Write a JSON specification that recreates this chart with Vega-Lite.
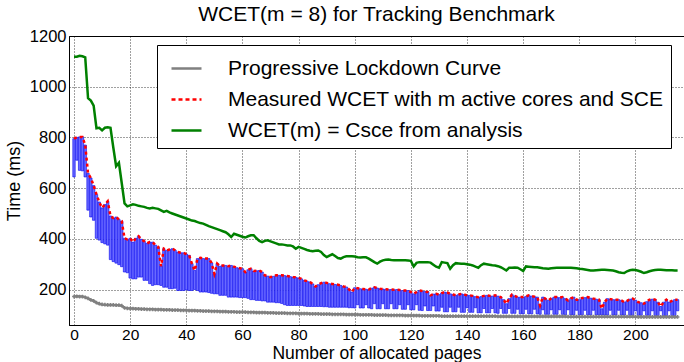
{
"$schema":"https://vega.github.io/schema/vega-lite/v6.json",
"autosize":{"type":"none"},
"padding":{"left":69,"top":36,"right":0,"bottom":37},
"width":615,"height":289,
"background":"white",
"title":{"text":"WCET(m = 8) for Tracking Benchmark","anchor":"middle","frame":"group","font":"Liberation Sans","fontSize":21,"fontWeight":"normal","color":"#000","offset":3},
"config":{"view":{"stroke":"#000","strokeWidth":1},
"axis":{"labelColor":"#000","titleColor":"#000","domainColor":"#000","ticks":false,"grid":true,"gridColor":"#000","gridDash":[1,2],"gridOpacity":0.75,"titleFontWeight":"normal","labelFlush":false}},
"data":{"values":[
{"x":0,"g":172,"m":795,"l":644,"w":1118},{"x":1,"g":173,"m":800,"l":710,"w":1118},{"x":2,"g":172,"m":802,"l":670,"w":1122},{"x":3,"g":172,"m":802,"l":668,"w":1120},{"x":4,"g":169,"m":770,"l":644,"w":1116},
{"x":5,"g":165,"m":658,"l":513,"w":955},{"x":6,"g":159,"m":640,"l":486,"w":945},{"x":7,"g":155,"m":610,"l":473,"w":925},{"x":8,"g":148,"m":575,"l":402,"w":836},{"x":9,"g":144,"m":545,"l":395,"w":838},
{"x":10,"g":141,"m":522,"l":385,"w":828},{"x":11,"g":140,"m":535,"l":380,"w":838},{"x":12,"g":139,"m":548,"l":375,"w":840},{"x":13,"g":139,"m":490,"l":318,"w":838},{"x":14,"g":139,"m":482,"l":310,"w":760},
{"x":15,"g":138,"m":486,"l":304,"w":686},{"x":16,"g":138,"m":476,"l":298,"w":700},{"x":17,"g":136,"m":470,"l":290,"w":620},{"x":18,"g":128,"m":402,"l":269,"w":540},{"x":19,"g":126,"m":398,"l":266,"w":528},
{"x":20,"g":125,"m":402,"l":245,"w":532},{"x":21,"g":125,"m":387,"l":242,"w":536},{"x":22,"g":124,"m":402,"l":242,"w":534},{"x":23,"g":124,"m":410,"l":249,"w":530},{"x":24,"g":123,"m":398,"l":249,"w":528},
{"x":25,"g":123,"m":390,"l":236,"w":526},{"x":26,"g":122,"m":382,"l":236,"w":522},{"x":27,"g":122,"m":387,"l":223,"w":520},{"x":28,"g":122,"m":387,"l":216,"w":522},{"x":29,"g":121,"m":375,"l":219,"w":520},
{"x":30,"g":121,"m":368,"l":219,"w":518},{"x":31,"g":121,"m":292,"l":216,"w":512},{"x":32,"g":120,"m":361,"l":209,"w":506},{"x":33,"g":120,"m":354,"l":209,"w":510},{"x":34,"g":120,"m":358,"l":203,"w":504},
{"x":35,"g":119,"m":361,"l":203,"w":500},{"x":36,"g":119,"m":355,"l":205,"w":496},{"x":37,"g":119,"m":348,"l":196,"w":492},{"x":38,"g":118,"m":345,"l":196,"w":488},{"x":39,"g":118,"m":345,"l":196,"w":484},
{"x":40,"g":118,"m":340,"l":198,"w":480},{"x":41,"g":117,"m":335,"l":196,"w":476},{"x":42,"g":117,"m":302,"l":196,"w":472},{"x":43,"g":117,"m":275,"l":200,"w":470},{"x":44,"g":116,"m":322,"l":196,"w":466},
{"x":45,"g":116,"m":325,"l":190,"w":462},{"x":46,"g":115,"m":322,"l":190,"w":460},{"x":47,"g":115,"m":322,"l":190,"w":455},{"x":48,"g":115,"m":322,"l":188,"w":450},{"x":49,"g":114,"m":305,"l":185,"w":446},
{"x":50,"g":114,"m":262,"l":183,"w":442},{"x":51,"g":114,"m":302,"l":183,"w":438},{"x":52,"g":113,"m":292,"l":177,"w":434},{"x":53,"g":113,"m":295,"l":177,"w":430},{"x":54,"g":113,"m":295,"l":177,"w":426},
{"x":55,"g":112,"m":292,"l":170,"w":418},{"x":56,"g":112,"m":295,"l":170,"w":407},{"x":57,"g":112,"m":290,"l":170,"w":420},{"x":58,"g":111,"m":286,"l":170,"w":416},{"x":59,"g":111,"m":284,"l":168,"w":412},
{"x":60,"g":111,"m":282,"l":168,"w":408},{"x":61,"g":111,"m":269,"l":168,"w":405},{"x":62,"g":110,"m":278,"l":165,"w":410},{"x":63,"g":110,"m":282,"l":160,"w":414},{"x":64,"g":110,"m":273,"l":160,"w":414},
{"x":65,"g":109,"m":274,"l":157,"w":402},{"x":66,"g":109,"m":275,"l":157,"w":392},{"x":67,"g":109,"m":269,"l":155,"w":387},{"x":68,"g":109,"m":256,"l":155,"w":392},{"x":69,"g":108,"m":253,"l":150,"w":394},
{"x":70,"g":108,"m":249,"l":150,"w":390},{"x":71,"g":108,"m":252,"l":150,"w":386},{"x":72,"g":107,"m":256,"l":148,"w":382},{"x":73,"g":107,"m":256,"l":148,"w":378},{"x":74,"g":107,"m":256,"l":145,"w":378},
{"x":75,"g":107,"m":255,"l":140,"w":376},{"x":76,"g":106,"m":253,"l":137,"w":374},{"x":77,"g":106,"m":251,"l":137,"w":374},{"x":78,"g":106,"m":249,"l":137,"w":370},{"x":79,"g":106,"m":248,"l":137,"w":361},
{"x":80,"g":105,"m":246,"l":137,"w":368},{"x":81,"g":105,"m":242,"l":137,"w":364},{"x":82,"g":105,"m":236,"l":135,"w":360},{"x":83,"g":105,"m":233,"l":133,"w":356},{"x":84,"g":104,"m":230,"l":133,"w":353},
{"x":85,"g":104,"m":222,"l":133,"w":351},{"x":86,"g":104,"m":212,"l":133,"w":353},{"x":87,"g":104,"m":219,"l":133,"w":354},{"x":88,"g":103,"m":225,"l":133,"w":348},{"x":89,"g":103,"m":229,"l":132,"w":336},
{"x":90,"g":103,"m":226,"l":132,"w":328},{"x":91,"g":103,"m":223,"l":130,"w":334},{"x":92,"g":102,"m":222,"l":130,"w":339},{"x":93,"g":102,"m":220,"l":130,"w":332},{"x":94,"g":102,"m":219,"l":130,"w":324},
{"x":95,"g":102,"m":216,"l":130,"w":322},{"x":96,"g":102,"m":212,"l":130,"w":328},{"x":97,"g":101,"m":210,"l":130,"w":331},{"x":98,"g":101,"m":200,"l":128,"w":331},{"x":99,"g":101,"m":190,"l":128,"w":331},
{"x":100,"g":101,"m":207,"l":127,"w":330},{"x":101,"g":101,"m":205,"l":140,"w":327},{"x":102,"g":100,"m":203,"l":127,"w":326},{"x":103,"g":100,"m":202,"l":127,"w":327},{"x":104,"g":100,"m":201,"l":140,"w":327},
{"x":105,"g":100,"m":200,"l":127,"w":322},{"x":106,"g":100,"m":205,"l":124,"w":315},{"x":107,"g":99,"m":209,"l":144,"w":308},{"x":108,"g":99,"m":206,"l":124,"w":302},{"x":109,"g":99,"m":203,"l":124,"w":310},
{"x":110,"g":99,"m":202,"l":144,"w":315},{"x":111,"g":99,"m":201,"l":124,"w":317},{"x":112,"g":98,"m":200,"l":124,"w":318},{"x":113,"g":98,"m":200,"l":144,"w":316},{"x":114,"g":98,"m":199,"l":124,"w":315},
{"x":115,"g":98,"m":200,"l":124,"w":315},{"x":116,"g":98,"m":198,"l":140,"w":315},{"x":117,"g":98,"m":196,"l":122,"w":315},{"x":118,"g":97,"m":196,"l":122,"w":315},{"x":119,"g":97,"m":196,"l":140,"w":314},
{"x":120,"g":97,"m":190,"l":120,"w":313},{"x":121,"g":97,"m":183,"l":120,"w":291},{"x":122,"g":97,"m":190,"l":140,"w":305},{"x":123,"g":97,"m":196,"l":118,"w":308},{"x":124,"g":96,"m":194,"l":117,"w":308},
{"x":125,"g":96,"m":192,"l":135,"w":308},{"x":126,"g":96,"m":190,"l":117,"w":308},{"x":127,"g":96,"m":177,"l":117,"w":306},{"x":128,"g":96,"m":182,"l":135,"w":298},{"x":129,"g":96,"m":183,"l":115,"w":290},
{"x":130,"g":96,"m":180,"l":115,"w":286},{"x":131,"g":95,"m":186,"l":130,"w":308},{"x":132,"g":95,"m":190,"l":112,"w":306},{"x":133,"g":95,"m":188,"l":112,"w":304},{"x":134,"g":95,"m":183,"l":130,"w":282},
{"x":135,"g":95,"m":180,"l":112,"w":296},{"x":136,"g":95,"m":177,"l":112,"w":304},{"x":137,"g":95,"m":180,"l":130,"w":303},{"x":138,"g":95,"m":183,"l":110,"w":302},{"x":139,"g":95,"m":180,"l":110,"w":302},
{"x":140,"g":95,"m":177,"l":128,"w":300},{"x":141,"g":95,"m":177,"l":110,"w":298},{"x":142,"g":95,"m":175,"l":110,"w":295},{"x":143,"g":95,"m":172,"l":128,"w":290},{"x":144,"g":95,"m":170,"l":108,"w":286},
{"x":145,"g":95,"m":172,"l":108,"w":296},{"x":146,"g":95,"m":175,"l":125,"w":302},{"x":147,"g":95,"m":177,"l":108,"w":300},{"x":148,"g":95,"m":175,"l":108,"w":298},{"x":149,"g":95,"m":174,"l":125,"w":296},
{"x":150,"g":95,"m":177,"l":108,"w":295},{"x":151,"g":94,"m":174,"l":106,"w":292},{"x":152,"g":94,"m":170,"l":125,"w":288},{"x":153,"g":94,"m":160,"l":106,"w":282},{"x":154,"g":94,"m":144,"l":106,"w":275},
{"x":155,"g":94,"m":164,"l":125,"w":286},{"x":156,"g":94,"m":180,"l":106,"w":286},{"x":157,"g":94,"m":175,"l":106,"w":287},{"x":158,"g":94,"m":170,"l":122,"w":286},{"x":159,"g":94,"m":170,"l":104,"w":280},
{"x":160,"g":94,"m":170,"l":104,"w":273},{"x":161,"g":94,"m":173,"l":122,"w":291},{"x":162,"g":94,"m":177,"l":104,"w":290},{"x":163,"g":94,"m":174,"l":104,"w":289},{"x":164,"g":94,"m":172,"l":122,"w":288},
{"x":165,"g":94,"m":170,"l":104,"w":288},{"x":166,"g":94,"m":137,"l":102,"w":286},{"x":167,"g":94,"m":170,"l":120,"w":284},{"x":168,"g":94,"m":163,"l":102,"w":283},{"x":169,"g":94,"m":157,"l":102,"w":282},
{"x":170,"g":94,"m":165,"l":120,"w":284},{"x":171,"g":94,"m":170,"l":102,"w":285},{"x":172,"g":94,"m":170,"l":102,"w":286},{"x":173,"g":94,"m":168,"l":120,"w":286},{"x":174,"g":94,"m":170,"l":102,"w":286},
{"x":175,"g":94,"m":164,"l":100,"w":286},{"x":176,"g":93,"m":157,"l":120,"w":286},{"x":177,"g":93,"m":165,"l":100,"w":286},{"x":178,"g":93,"m":170,"l":100,"w":285},{"x":179,"g":93,"m":160,"l":118,"w":284},
{"x":180,"g":93,"m":160,"l":100,"w":282},{"x":181,"g":93,"m":167,"l":100,"w":281},{"x":182,"g":93,"m":168,"l":118,"w":279},{"x":183,"g":93,"m":170,"l":100,"w":277},{"x":184,"g":93,"m":166,"l":100,"w":275},
{"x":185,"g":93,"m":164,"l":118,"w":275},{"x":186,"g":93,"m":162,"l":100,"w":276},{"x":187,"g":93,"m":160,"l":100,"w":277},{"x":188,"g":93,"m":124,"l":100,"w":278},{"x":189,"g":93,"m":150,"l":99,"w":278},
{"x":190,"g":93,"m":164,"l":99,"w":277},{"x":191,"g":93,"m":162,"l":118,"w":276},{"x":192,"g":93,"m":160,"l":99,"w":275},{"x":193,"g":93,"m":160,"l":99,"w":272},{"x":194,"g":93,"m":160,"l":118,"w":268},
{"x":195,"g":93,"m":157,"l":99,"w":266},{"x":196,"g":93,"m":150,"l":99,"w":265},{"x":197,"g":93,"m":155,"l":118,"w":272},{"x":198,"g":93,"m":162,"l":98,"w":276},{"x":199,"g":93,"m":164,"l":98,"w":278},
{"x":200,"g":93,"m":158,"l":116,"w":277},{"x":201,"g":92,"m":150,"l":98,"w":274},{"x":202,"g":92,"m":148,"l":98,"w":270},{"x":203,"g":92,"m":144,"l":116,"w":265},{"x":204,"g":92,"m":152,"l":98,"w":268},
{"x":205,"g":92,"m":160,"l":98,"w":272},{"x":206,"g":92,"m":162,"l":116,"w":275},{"x":207,"g":92,"m":160,"l":97,"w":277},{"x":208,"g":92,"m":150,"l":97,"w":278},{"x":209,"g":92,"m":133,"l":116,"w":278},
{"x":210,"g":92,"m":150,"l":97,"w":277},{"x":211,"g":92,"m":160,"l":97,"w":276},{"x":212,"g":92,"m":150,"l":116,"w":276},{"x":213,"g":92,"m":155,"l":97,"w":276},{"x":214,"g":92,"m":160,"l":97,"w":275},
{"x":215,"g":92,"m":160,"l":116,"w":275}
]},
"encoding":{"x":{"field":"x","type":"quantitative","scale":{"domain":[0,215.5],"nice":false,"zero":false},
"axis":{"values":[0,20,40,60,80,100,120,140,160,180,200],"title":"Number of allocated pages","labelFont":"Liberation Sans","labelFontSize":15.5,"labelPadding":2,"titleFont":"Liberation Sans","titleFontSize":17.5,"titlePadding":2}}},
"layer":[
{"mark":{"type":"bar","size":2.4,"fill":"#6a6aff","stroke":"#0000f0","strokeWidth":0.6,"clip":true},
"encoding":{"y":{"field":"m","type":"quantitative","title":"Time (ms)","scale":{"domain":[60,1200],"nice":false,"zero":false},
"axis":{"values":[200,400,600,800,1000,1200],"format":"d","labelFont":"Liberation Sans","labelFontSize":16.5,"labelPadding":3,"titleFont":"Liberation Sans","titleFontSize":18,"titlePadding":6}},"y2":{"field":"l"}}},
{"mark":{"type":"line","strokeWidth":2.5,"clip":true,"point":{"shape":"cross","size":14,"filled":true}},
"encoding":{"y":{"field":"g","type":"quantitative","title":"Time (ms)"},
"color":{"datum":"Progressive Lockdown Curve","type":"nominal","scale":{"domain":["Progressive Lockdown Curve","Measured WCET with m active cores and SCE","WCET(m) = Csce from analysis"],"range":["#808080","#ff0000","#008000"]},
"legend":{"orient":"none","legendX":88,"legendY":9,"title":null,"symbolType":"stroke","symbolSize":900,"symbolStrokeWidth":2.5,"labelFont":"Liberation Sans","labelFontSize":21,"labelColor":"#000","padding":7,"rowPadding":4,"fillColor":"#ffffff","strokeColor":"#000000","labelOffset":25,"symbolOffset":6,"labelLimit":800,"cornerRadius":0,
"encode":{"symbols":{"update":{"strokeDash":{"signal":"datum.value === 'Measured WCET with m active cores and SCE' ? [4,3] : [1,0]"}}}}}}}},
{"mark":{"type":"line","strokeWidth":2.5,"strokeDash":[3,3],"clip":true},
"encoding":{"y":{"field":"m","type":"quantitative","title":"Time (ms)"},"color":{"datum":"Measured WCET with m active cores and SCE","type":"nominal"}}},
{"mark":{"type":"line","strokeWidth":2.5,"clip":true},
"encoding":{"y":{"field":"w","type":"quantitative","title":"Time (ms)"},"color":{"datum":"WCET(m) = Csce from analysis","type":"nominal"}}}
]
}
